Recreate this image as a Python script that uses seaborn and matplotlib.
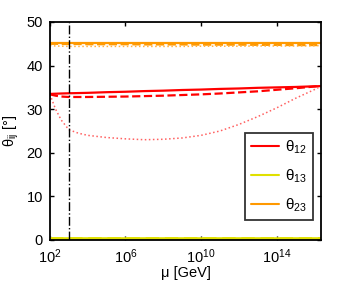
import numpy as np
import matplotlib
matplotlib.use("Agg")
import matplotlib.pyplot as plt
import seaborn as sns
from matplotlib.lines import Line2D

# log10(mu / GeV) sampling grid
log_mu = [2, 2.3, 2.6, 3, 3.5, 4, 5, 6, 7, 8, 9, 10, 11, 12, 13, 14, 15, 16, 16.35]

th12_solid = [33.5, 33.55, 33.6, 33.65, 33.7, 33.75, 33.9, 34.0, 34.15, 34.25,
              34.4, 34.5, 34.65, 34.75, 34.9, 35.0, 35.1, 35.25, 35.3]
th12_dash = [33.4, 33.1, 32.9, 32.8, 32.8, 32.8, 32.85, 32.9, 33.0, 33.1,
             33.25, 33.4, 33.6, 33.85, 34.1, 34.45, 34.8, 35.2, 35.3]
th12_dot = [33.4, 30.0, 27.5, 25.3, 24.5, 24.0, 23.5, 23.2, 23.0, 23.1,
            23.4, 24.0, 25.0, 26.5, 28.3, 30.3, 32.5, 34.5, 35.3]

th23_solid = [45.1] * len(log_mu)
th23_dash = [45.0, 45.0, 44.95, 44.95, 44.95, 44.9, 44.9, 44.9, 44.85, 44.85,
             44.85, 44.8, 44.8, 44.8, 44.75, 44.75, 44.7, 44.7, 44.7]
th23_dot = [44.6, 44.5, 44.45, 44.4, 44.4, 44.4, 44.4, 44.4, 44.4, 44.4,
            44.4, 44.45, 44.45, 44.45, 44.5, 44.5, 44.5, 44.55, 44.6]

th13_solid = [0.2] * len(log_mu)
th13_dash = [0.2] * len(log_mu)
th13_dot = [0.2] * len(log_mu)

mu_susy = 1e3
xticks = [1e2, 1e6, 1e10, 1e14]
xticklabels = ["$10^{2}$", "$10^{6}$", "$10^{10}$", "$10^{14}$"]
yticks = [0, 10, 20, 30, 40, 50]

sns.set_style("ticks")
plt.rcParams["font.family"] = ["Liberation Sans", "DejaVu Sans"]
plt.rcParams["mathtext.fontset"] = "custom"
plt.rcParams["mathtext.rm"] = "Liberation Sans"
plt.rcParams["mathtext.it"] = "Liberation Sans"
plt.rcParams["text.color"] = "black"
plt.rcParams["axes.labelcolor"] = "black"

mu = 10 ** np.array(log_mu)

fig = plt.figure(figsize=(3.54, 2.82), dpi=100)
ax = fig.add_axes([0.141, 0.149, 0.766, 0.773])

red, yellow, orange = "#ff0000", "#e0e000", "#ff9900"
red_light, orange_light = "#ff6060", "#ffb040"

series = [
    (th13_solid, yellow, "-", 2.6), (th13_dash, yellow, "--", 2.6), (th13_dot, yellow, ":", 2.0),
    (th12_solid, red, "-", 1.6), (th12_dash, red, "--", 1.6), (th12_dot, red_light, ":", 1.1),
    (th23_solid, orange, "-", 1.6), (th23_dash, orange, "--", 1.6), (th23_dot, orange_light, ":", 1.1),
]
for vals, col, ls, lw in series:
    sns.lineplot(x=mu, y=vals, ax=ax, color=col, linestyle=ls, linewidth=lw)

ax.axvline(mu_susy, color="black", linestyle="-.", linewidth=1.0)

ax.set_xscale("log")
ax.set_xlim(1e2, 10 ** 16.35)
ax.set_ylim(0, 50)
ax.set_xticks(xticks)
ax.set_xticklabels(xticklabels)
ax.minorticks_off()
ax.set_yticks(yticks)
ax.tick_params(direction="in", top=True, right=True, length=3, width=1,
               labelsize=10.5, colors="black")
ax.tick_params(axis="x", pad=5)
ax.tick_params(axis="y", pad=5)
for s in ax.spines.values():
    s.set_linewidth(1.3)
    s.set_color("black")

ax.set_xlabel("μ [GeV]", fontsize=10.5, labelpad=0)
ax.set_ylabel(r"θ$_{\rm ij}$ [°]", fontsize=10.5, labelpad=4)

handles = [Line2D([], [], color=red, lw=1.5),
           Line2D([], [], color=yellow, lw=1.5),
           Line2D([], [], color=orange, lw=1.5)]
labels = [r"θ$_{12}$", r"θ$_{13}$", r"θ$_{23}$"]
leg = ax.legend(handles, labels, loc="lower right", bbox_to_anchor=(0.97, 0.092),
                borderaxespad=0, fontsize=11, frameon=True, fancybox=False,
                handlelength=1.8, borderpad=0.4, labelspacing=0.75, handletextpad=0.4)
leg.get_frame().set_edgecolor("black")
leg.get_frame().set_linewidth(1.3)

plt.savefig("out.png", dpi=100)
